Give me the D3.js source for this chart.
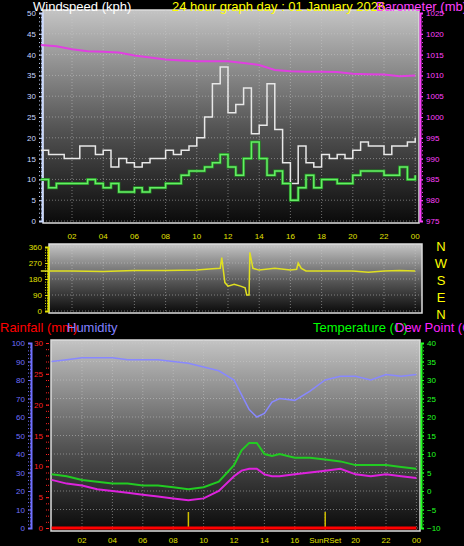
<!DOCTYPE html>
<html><head><meta charset="utf-8">
<script src="https://cdnjs.cloudflare.com/ajax/libs/d3/7.8.5/d3.min.js"></script>
<style>body{margin:0;background:#000;}svg{display:block;font-family:"Liberation Sans",Arial,sans-serif;}</style>
</head><body>
<script>
// wind, half-hour steps
const halfHours = d3.range(0, 24.5, 0.5);
const gust = [17,16,16,15,15,18,18,16,17,13,15,14,13,14,15,15,17,16,17,18,20,25,33,37,26,28,32,21,23,33,22,14,9,18,14,13,16,15,16,15,17,19,18,18,16,18,18,19,20];
const avgWind = [10,8,9,9,9,9,10,9,8,9,7,7,8,7,8,8,9,9,11,12,12,13,14,16,13,11,15,19,15,11,12,9,5,8,11,8,10,10,9,9,11,12,12,12,11,11,13,10,11];
const hours = d3.range(0, 25);
const baro = [1017.3,1017,1016.3,1015.8,1015.7,1015.5,1014.8,1014.3,1013.8,1013.6,1013.4,1013.4,1013.4,1013,1012.5,1011.3,1011,1010.9,1010.9,1010.8,1010.4,1010.3,1010.2,1009.8,1010];
const dirHours = [0,2,4,6,8,10,11,11.5,11.6,11.8,12,12.4,12.8,13.1,13.2,13.35,13.4,13.6,14,15,16,16.4,16.5,16.7,17,18,20,21,22,23,24];
const dirValues = [225,225,222,228,228,230,238,240,300,160,140,150,140,130,90,90,330,240,230,240,230,235,270,240,225,225,225,218,225,228,225];
const bHours = [0,1,2,3,4,5,6,7,8,9,10,11,12,12.5,13,13.5,14,14.5,15,16,17,18,19,20,21,22,23,24];
const humidity = [90,91,92,92,92,91,91,91,90,89,87,85,80,72,64,60,62,68,70,69,74,80,82,82,80,83,82,83];
const temp = [4.5,4,3,2.5,2,2,1.5,1.5,1,0.5,1,2.5,7,11,13,13,10,9.5,10,9,9,8.5,8,7,7,7,6.5,6];
const dew = [3,2,1.5,0.5,0,-0.5,-1,-1.5,-2,-2.5,-2,0,4,5.5,6,6,4.5,4,4,4.5,5,5.5,6,4.5,4,4.5,4,3.5];
const rain = bHours.map(() => 0);
const tickHours = [2,4,6,8,10,12,14,16,18,20,22,24];
const sunEvents = [9, 18];

const svg = d3.select("body").append("svg").attr("width", 464).attr("height", 546);
const defs = svg.append("defs");
const grad = defs.append("linearGradient").attr("id", "bg").attr("x1", 0).attr("x2", 0).attr("y1", 0).attr("y2", 1);
grad.append("stop").attr("offset", "0%").attr("stop-color", "#c4c4c4");
grad.append("stop").attr("offset", "55%").attr("stop-color", "#555");
grad.append("stop").attr("offset", "100%").attr("stop-color", "#0a0a0a");
const hh = d => (d % 24 === 0 ? "00" : d3.format("02")(d));

function panel(x0, y0, w, h, x, ys, yTicks) {
  svg.append("rect").attr("x", x0).attr("y", y0).attr("width", w).attr("height", h)
    .attr("fill", "url(#bg)").attr("stroke", "#ddd").attr("stroke-width", 1.5);
  const g = svg.append("g");
  g.selectAll("line.v").data(tickHours).join("line")
    .attr("x1", d => x(d)).attr("x2", d => x(d)).attr("y1", y0).attr("y2", y0 + h)
    .attr("stroke", "#ccc").attr("stroke-opacity", 0.5).attr("stroke-dasharray", "1,2");
  g.selectAll("line.h").data(yTicks).join("line")
    .attr("x1", x0).attr("x2", x0 + w).attr("y1", d => ys(d)).attr("y2", d => ys(d))
    .attr("stroke", "#ccc").attr("stroke-opacity", 0.5).attr("stroke-dasharray", "1,2");
}
function leftAxis(x0, ys, ticks, color, minor) {
  const a = svg.append("g").attr("transform", `translate(${x0},0)`)
    .call(d3.axisLeft(ys).tickValues(ticks).tickSize(3).tickFormat(d3.format("d")));
  a.select(".domain").attr("stroke", color).attr("stroke-width", 2);
  a.selectAll("line").attr("stroke", color);
  a.selectAll("text").attr("fill", color).attr("font-size", 8);
  if (minor) svg.append("g").attr("transform", `translate(${x0},0)`)
    .call(d3.axisLeft(ys).tickValues(minor).tickSize(3).tickFormat(""))
    .call(s => { s.select(".domain").remove(); s.selectAll("line").attr("stroke", color).attr("stroke-dasharray", "1,1"); });
  return a;
}
function rightAxis(x0, ys, ticks, color, minor) {
  const a = svg.append("g").attr("transform", `translate(${x0},0)`)
    .call(d3.axisRight(ys).tickValues(ticks).tickSize(3).tickFormat(d3.format("d")));
  a.select(".domain").attr("stroke", color).attr("stroke-width", 2);
  a.selectAll("line").attr("stroke", color);
  a.selectAll("text").attr("fill", color).attr("font-size", 8);
  if (minor) svg.append("g").attr("transform", `translate(${x0},0)`)
    .call(d3.axisRight(ys).tickValues(minor).tickSize(3).tickFormat(""))
    .call(s => { s.select(".domain").remove(); s.selectAll("line").attr("stroke", color).attr("stroke-dasharray", "1,1"); });
}
function xLabels(x, y, labels) {
  svg.append("g").selectAll("text").data(labels).join("text")
    .attr("x", d => x(d)).attr("y", y).attr("text-anchor", "middle")
    .attr("fill", "#e0e000").attr("font-size", 8).text(d => typeof d === "string" ? d : hh(d));
}
function line(x, y, xs, ys, color, w, curve) {
  svg.append("path").datum(xs.map((d, i) => [d, ys[i]]))
    .attr("fill", "none").attr("stroke", color).attr("stroke-width", w)
    .attr("d", d3.line().x(d => x(d[0])).y(d => y(d[1])).curve(curve || d3.curveLinear));
}

// --- top panel: wind + barometer
const x1 = d3.scaleLinear().domain([0, 24]).range([40.8, 415.2]);
const yW = d3.scaleLinear().domain([0, 50]).range([221, 13]);
const yB = d3.scaleLinear().domain([975, 1025]).range([221, 13]);
panel(43, 10, 376, 213, x1, yW, d3.range(0, 51, 5));
leftAxis(42, yW, d3.range(0, 51, 5), "#c8d8ff", d3.range(0, 51, 1));
rightAxis(420, yB, d3.range(975, 1026, 5), "#ff40ff", d3.range(975, 1026, 1));
line(x1, yW, halfHours, gust, "#e8e8e8", 1.5, d3.curveStepAfter);
line(x1, yW, halfHours, avgWind, "#228822", 3, d3.curveStepAfter);
line(x1, yW, halfHours, avgWind, "#66ee66", 1.5, d3.curveStepAfter);
line(x1, yB, hours, baro, "#e040e0", 2);
xLabels(x1, 239, tickHours);
svg.append("text").attr("x", 33).attr("y", 11).attr("fill", "#fff").attr("font-size", 13).text("Windspeed (kph)");
svg.append("text").attr("x", 172).attr("y", 11).attr("fill", "#ffff00").attr("font-size", 13).text("24 hour graph day : 01 January 2026");
svg.append("text").attr("x", 376).attr("y", 11).attr("fill", "#ff40ff").attr("font-size", 13).text("Barometer (mb)");

// --- middle panel: wind direction
const yD = d3.scaleLinear().domain([0, 360]).range([311, 247]);
panel(49, 244, 373, 69, x1, yD, [0, 90, 180, 270, 360]);
leftAxis(48, yD, [0, 90, 180, 270, 360], "#e0e000", d3.range(0, 361, 15));
line(x1, yD, dirHours, dirValues, "#e0e020", 1.5);
svg.append("g").selectAll("text").data(["N", "W", "S", "E", "N"]).join("text")
  .attr("x", 441).attr("y", (d, i) => 251 + i * 17).attr("text-anchor", "middle")
  .attr("fill", "#ffff00").attr("font-size", 13).text(d => d);

// --- bottom panel: humidity, rain, temperature
const x3 = d3.scaleLinear().domain([0, 24]).range([51.6, 416.4]);
const yH = d3.scaleLinear().domain([0, 100]).range([528, 343]);
const yR = d3.scaleLinear().domain([0, 30]).range([528, 343]);
const yT = d3.scaleLinear().domain([-10, 40]).range([528, 343]);
panel(51, 340, 369, 191, x3, yH, d3.range(0, 101, 10));
leftAxis(31, yH, d3.range(0, 101, 10), "#7070ff", d3.range(0, 101, 2));
leftAxis(49, yR, d3.range(0, 31, 5), "#ff2020", d3.range(0, 31, 1)).select(".domain").remove();
rightAxis(421, yT, d3.range(-10, 41, 5), "#20ff20", d3.range(-10, 41, 1));
svg.append("g").selectAll("line").data(sunEvents).join("line")
  .attr("x1", d => x3(d)).attr("x2", d => x3(d)).attr("y1", 512).attr("y2", 528)
  .attr("stroke", "#d0c000").attr("stroke-width", 1.5);
line(x3, yH, bHours, humidity, "#8888ff", 1.5);
line(x3, yT, bHours, temp, "#22cc22", 2);
line(x3, yT, bHours, dew, "#dd22dd", 2);
line(x3, yR, bHours, rain, "#ff0000", 3);
xLabels(x3, 543, [2, 4, 6, 8, 10, 12, 14, 16, 20, 22, 24]);
svg.append("text").attr("x", x3(18)).attr("y", 543).attr("text-anchor", "middle")
  .attr("fill", "#e0e000").attr("font-size", 8).text("SunRSet");
svg.append("text").attr("x", 0).attr("y", 332).attr("fill", "#ff0000").attr("font-size", 13).text("Rainfall (mm)");
svg.append("text").attr("x", 67).attr("y", 332).attr("fill", "#8080ff").attr("font-size", 13).text("Humidity");
svg.append("text").attr("x", 313).attr("y", 332).attr("fill", "#00ff00").attr("font-size", 13).text("Temperature (C)");
svg.append("text").attr("x", 395).attr("y", 332).attr("fill", "#ff20ff").attr("font-size", 13).text("Dew Point (C)");
</script>
</body></html>
